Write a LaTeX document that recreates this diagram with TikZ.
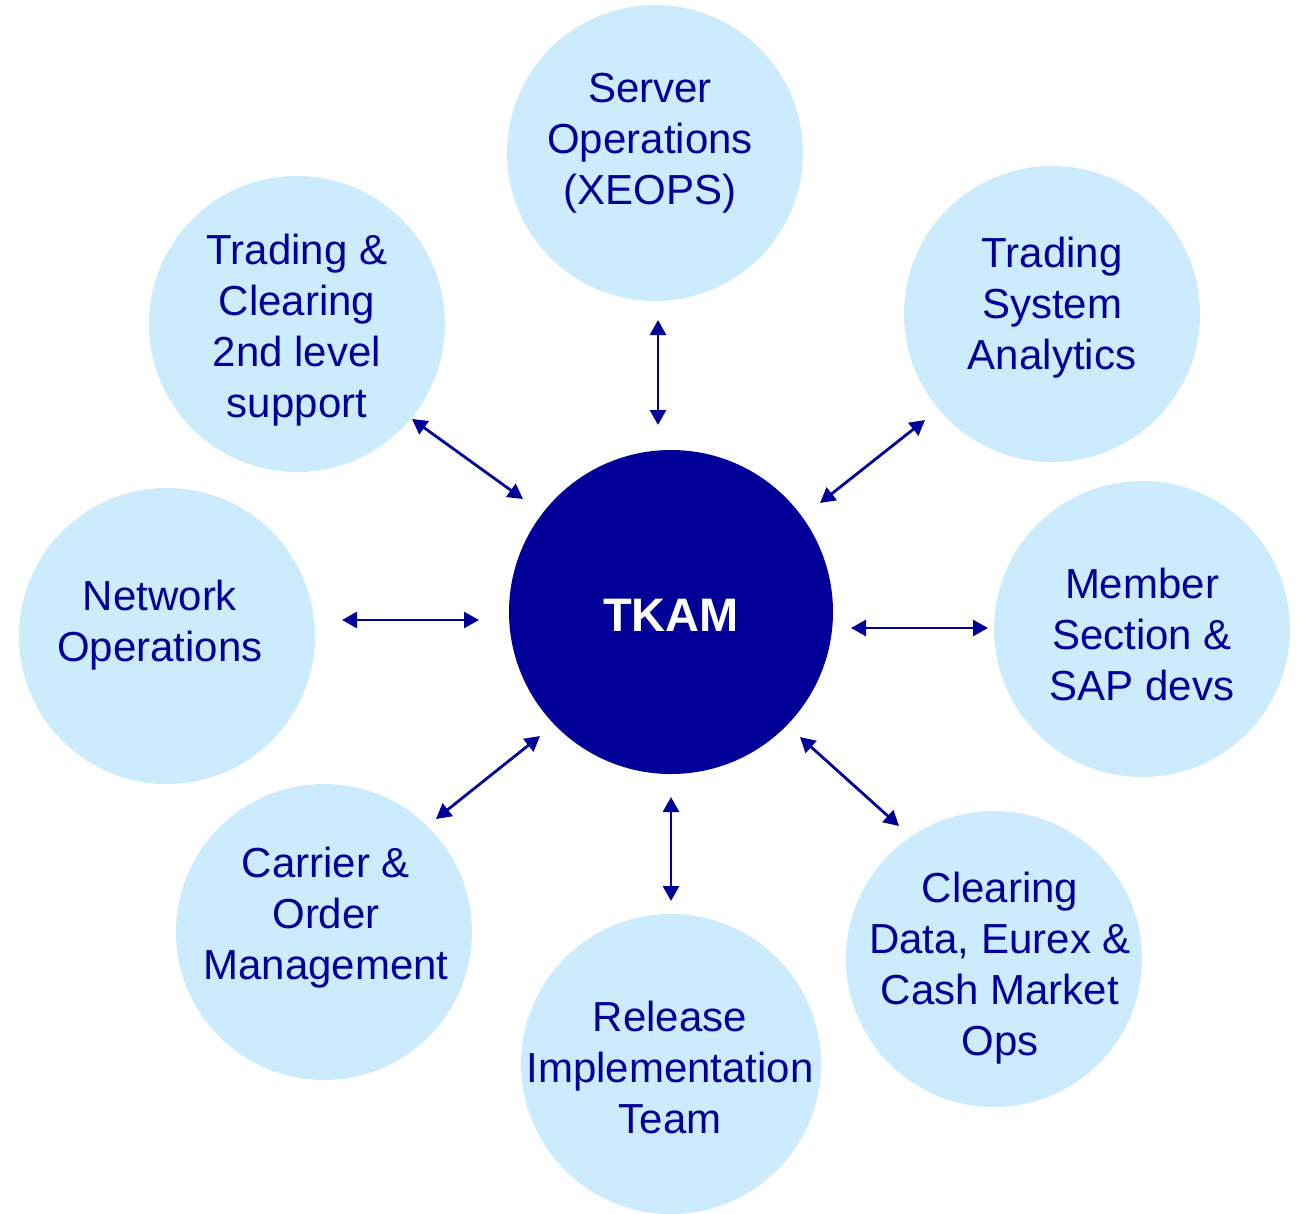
\documentclass[tikz,border=0pt]{standalone}
\usepackage{fontspec}
\setmainfont{Liberation Sans}
\usetikzlibrary{arrows.meta}
\definecolor{lightb}{HTML}{CCEBFC}
\definecolor{darkb}{HTML}{000099}
\begin{document}
\begin{tikzpicture}[x=1pt,y=-1pt,
  satellite/.style={circle,fill=lightb,draw=none,minimum size=296pt,inner sep=0pt},
  hub/.style={circle,fill=darkb,draw=none,minimum size=324pt,inner sep=0pt},
  lbl/.style={align=center,text=darkb,inner sep=0pt,font=\fontsize{42}{51}\selectfont},
  link/.style={darkb,line width=2.8pt,{Triangle[length=15pt,width=16pt]}-{Triangle[length=15pt,width=16pt]}}]
\useasboundingbox (0,0) rectangle (1297,1213);
% circles
\node[satellite] (srv) at (655,153) {};
\node[satellite] (tsa) at (1052,314) {};
\node[satellite] (mem) at (1142,629) {};
\node[satellite] (clr) at (994,959) {};
\node[satellite,minimum size=300pt] (rel) at (671,1064) {};
\node[satellite] (car) at (324,932) {};
\node[satellite] (net) at (167,636) {};
\node[satellite] (tc) at (297,324) {};
\node[hub] (tkam) at (671,612) {};
% labels
\node[lbl] (srvT) at (650,143) {Server\\Operations\\(XEOPS)};
\node[lbl] (tsaT) at (1052,308) {Trading\\System\\Analytics};
\node[lbl] (memT) at (1142,634) {Member\\Section \&\\SAP devs};
\node[lbl] (clrT) at (1000,968) {Clearing\\Data, Eurex \&\\Cash Market\\Ops};
\node[lbl] (relT) at (670,1067) {Release\\Implementation\\Team};
\node[lbl] (carT) at (326,918) {Carrier \&\\Order\\Management};
\node[lbl] (netT) at (160,625) {Network\\Operations};
\node[lbl] (tcT) at (297,330) {Trading \&\\Clearing\\2nd level\\support};
\node[text=white,inner sep=0pt,font=\fontsize{47}{56}\selectfont\bfseries] (tkamT) at (671,615) {TKAM};
% arrow end points
\coordinate (a1) at (658,320); \coordinate (b1) at (658,425);
\coordinate (a2) at (925,420); \coordinate (b2) at (820,503);
\coordinate (a3) at (988,628); \coordinate (b3) at (851,628);
\coordinate (a4) at (899,826); \coordinate (b4) at (800,737);
\coordinate (a5) at (671,901); \coordinate (b5) at (671,797);
\coordinate (a6) at (436,819); \coordinate (b6) at (540,736);
\coordinate (a7) at (342,620); \coordinate (b7) at (479,620);
\coordinate (a8) at (412,419); \coordinate (b8) at (523,499);
\foreach \i in {1,...,8} {\draw[link] (a\i) -- (b\i);}
\end{tikzpicture}
\end{document}
